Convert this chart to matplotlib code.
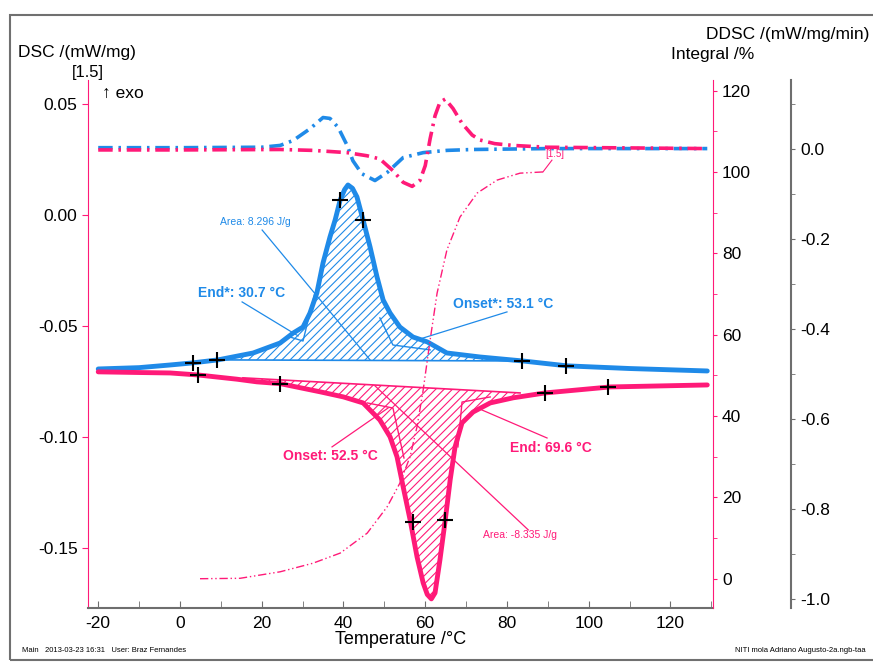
import numpy as np
import matplotlib
matplotlib.use('Agg')
import matplotlib.pyplot as plt
from matplotlib.patches import Rectangle
from matplotlib.ticker import MultipleLocator, FormatStrFormatter

plt.rcParams['font.family'] = ['Liberation Sans', 'DejaVu Sans']
plt.rcParams['axes.unicode_minus'] = False
plt.rcParams['hatch.linewidth'] = 0.8

blue = '#1f8ae8'
pink = '#ff1a78'
gray = '#6e6e6e'

# DSC, cooling (blue, exo peak)
cool_T = [-20, -10, -2.4, 2.9, 9.3, 17.9, 24.5, 27.7, 30.1, 31.8, 33.5, 35.0, 36.7, 38.0,
          39.2, 40.3, 41.1, 42.2, 43.3, 44.8, 46.5, 48.2, 49.7, 51.4, 53.8, 57.0, 60.5,
          65.3, 73.4, 83.9, 94.7, 110, 129]
cool_dsc = [-0.0694, -0.0688, -0.0676, -0.0667, -0.0653, -0.0622, -0.0577, -0.0532, -0.0505,
            -0.0442, -0.0351, -0.0216, -0.0099, -0.0020, 0.0068, 0.0115, 0.0135, 0.0120,
            0.0081, -0.0023, -0.0144, -0.0279, -0.0383, -0.0442, -0.0505, -0.0550, -0.0572,
            -0.0622, -0.0640, -0.0658, -0.0680, -0.0692, -0.0703]

# DSC, heating (pink, endo peak)
heat_T = [-20, -10, -2.4, 4.4, 13.9, 18.8, 24.5, 34.3, 40.0, 44.8, 48.9, 51.4, 53.1, 54.6,
          56.3, 58.0, 59.5, 60.5, 61.5, 62.4, 63.6, 64.9, 66.1, 67.3, 69.0, 71.7, 75.9,
          81.5, 89.3, 105.2, 129]
heat_dsc = [-0.0707, -0.0710, -0.0712, -0.0721, -0.0740, -0.0752, -0.0760, -0.0797, -0.0820,
            -0.0847, -0.0924, -0.1000, -0.1090, -0.1225, -0.1374, -0.1541, -0.1658, -0.1710,
            -0.1730, -0.1703, -0.1554, -0.1374, -0.1194, -0.1045, -0.0937, -0.0888, -0.0847,
            -0.0824, -0.0802, -0.0775, -0.0766]

# DDSC
cool_ddsc_T = [-20, 0, 20, 24.5, 27.7, 31.8, 35.0, 36.7, 38.7, 40.9, 42.3, 44.5, 47.7, 50.7,
               54.6, 59.5, 65.3, 71.7, 90, 129]
cool_ddsc = [0.002, 0.002, 0.003, 0.007, 0.018, 0.044, 0.069, 0.067, 0.047, 0.007, -0.027,
             -0.056, -0.071, -0.053, -0.020, -0.009, -0.004, -0.002, 0.0, 0.0]
heat_ddsc_T = [-20, 0, 24.5, 32.5, 40.9, 45.8, 48.9, 52.1, 54.6, 56.8, 58.7, 60.0, 61.2, 62.4,
               63.6, 64.9, 66.8, 69.0, 71.5, 73.4, 77, 81.5, 89.8, 129]
heat_ddsc = [-0.003, -0.003, -0.002, -0.004, -0.009, -0.016, -0.023, -0.049, -0.075, -0.084,
             -0.071, -0.038, 0.022, 0.073, 0.103, 0.110, 0.089, 0.056, 0.030, 0.019, 0.011,
             0.007, 0.003, 0.0]

# integral of heating peak (%)
integ_T = [4.9, 14.7, 24.5, 32.5, 39.2, 45.8, 50.7, 53.8, 56.3, 58.0, 59.5, 61.2, 62.9, 65.3,
           68.5, 72.7, 77.6, 83.2, 88.8]
integ = [0, 0.1, 1.7, 3.8, 6.3, 11.2, 17.7, 23.5, 30.0, 37.4, 46.4, 58.7, 70.2, 80.8, 88.9,
         94.8, 98.0, 99.7, 100]

# evaluation points
cool_cross_T = [3.2, 9.0, 39.2, 44.8, 83.7, 94.5]
cool_cross_dsc = [-0.0665, -0.0653, 0.0068, -0.0023, -0.0658, -0.0680]
heat_cross_T = [4.4, 24.5, 57.0, 64.9, 89.3, 104.7]
heat_cross_dsc = [-0.0721, -0.0760, -0.1383, -0.1374, -0.0802, -0.0775]

# integration baselines (T, dsc) at both ends
cool_base = ([9.0, 83.7], [-0.0653, -0.0658])
heat_base = ([15.4, 83.2], [-0.0734, -0.0802])

# onset / end tangent constructions
cool_end_lines = [([26.9, 30.1, 33.0], [-0.0550, -0.0568, -0.0351])]
cool_onset_lines = [([48.9, 52.1, 61.2], [-0.0464, -0.0586, -0.0608])]
heat_onset_lines = [([45.8, 52.1, 54.8], [-0.0847, -0.0870, -0.1095])]
heat_end_lines = [([68.0, 69.0, 75.9], [-0.1045, -0.0843, -0.0820])]

fig = plt.figure(figsize=(8.73, 6.66), dpi=100)
ax = fig.add_axes([88 / 873, 58 / 666, 625 / 873, 528 / 666])
ax2 = ax.twinx()
ax3 = ax.twinx()

# hatched peak areas
for T, d, base, col in [(cool_T, cool_dsc, cool_base, blue), (heat_T, heat_dsc, heat_base, pink)]:
    T = np.array(T); d = np.array(d)
    m = (T > base[0][0]) & (T < base[0][1])
    Ts = np.concatenate([[base[0][0]], T[m], [base[0][1]]])
    ds = np.concatenate([[base[1][0]], d[m], [base[1][1]]])
    bl = np.interp(Ts, base[0], base[1])
    ax.fill_between(Ts, bl, ds, facecolor='none', edgecolor=col, hatch='////', linewidth=0)
    ax.plot(base[0], base[1], color=col, lw=1.2)

for lines, col in [(cool_end_lines + cool_onset_lines, blue), (heat_onset_lines + heat_end_lines, pink)]:
    for xs, ys in lines:
        ax.plot(xs, ys, color=col, lw=1)

ax.plot(cool_T, cool_dsc, color=blue, lw=3.5, solid_capstyle='round')
ax.plot(heat_T, heat_dsc, color=pink, lw=3.5, solid_capstyle='round')
ax.plot(cool_cross_T, cool_cross_dsc, '+', color='black', ms=12, mew=1.5)
ax.plot(heat_cross_T, heat_cross_dsc, '+', color='black', ms=12, mew=1.5)

# annotations
def note(txt, xy_text, xy_from, xy_to, col, bold, size):
    ax.text(xy_text[0], xy_text[1], txt, color=col, fontsize=size,
            fontweight='bold' if bold else 'normal', va='center', ha='left')
    ax.plot([xy_from[0], xy_to[0]], [xy_from[1], xy_to[1]], color=col, lw=0.9)

note('End*: 30.7 °C', (4.4, -0.0351), (15.2, -0.0392), (28.9, -0.0545), blue, True, 10)
note('Area: 8.296 J/g', (9.8, -0.0032), (20.1, -0.0068), (46.5, -0.0653), blue, False, 7.5)
note('Onset*: 53.1 °C', (66.8, -0.0401), (80.0, -0.0437), (58.0, -0.0563), blue, True, 10)
note('Onset: 52.5 °C', (25.2, -0.1086), (37.2, -0.1045), (50.9, -0.0870), pink, True, 10)
note('End: 69.6 °C', (80.8, -0.1050), (89.8, -0.1005), (73.9, -0.0879), pink, True, 10)
note('Area: -8.335 J/g', (74.2, -0.1442), (85.2, -0.1419), (47.7, -0.0770), pink, False, 7.5)

ax2.plot(integ_T, integ, color=pink, lw=1, linestyle=(0, (6, 2, 1, 2, 1, 2)))
ax2.plot([integ_T[-1], 91.0], [integ[-1], 102.9], color=pink, lw=0.8)
ax2.text(91.8, 104.3, '[1.5]', color=pink, fontsize=7, ha='center', va='center')

ax3.plot(cool_ddsc_T, cool_ddsc, color=blue, lw=2.6, dashes=[4, 1.6, 0.7, 1.6])
ax3.plot(heat_ddsc_T, heat_ddsc, color=pink, lw=2.6, dashes=[4, 1.6, 0.7, 1.6])

# axes setup
ax.set_xlim(-22.5, 130.4)
ax.set_ylim(-0.1771, 0.0608)
ax2.set_ylim(-7.2, 122.6)
ax3.set_ylim(-1.0209, 0.1524)

ax.xaxis.set_major_locator(MultipleLocator(20))
ax.xaxis.set_minor_locator(MultipleLocator(10))
ax.yaxis.set_major_locator(MultipleLocator(0.05))
ax.yaxis.set_major_formatter(FormatStrFormatter('%.2f'))
ax2.yaxis.set_major_locator(MultipleLocator(20))
ax2.yaxis.set_minor_locator(MultipleLocator(10))
ax3.yaxis.set_major_locator(MultipleLocator(0.2))
ax3.yaxis.set_minor_locator(MultipleLocator(0.1))
ax3.yaxis.set_major_formatter(FormatStrFormatter('%.1f'))
ax3.set_yticks([0.0, -0.2, -0.4, -0.6, -0.8, -1.0])

for a in (ax, ax2, ax3):
    a.spines['top'].set_visible(False)
ax.spines['right'].set_visible(False)
for a in (ax2, ax3):
    a.spines['left'].set_visible(False)
    a.spines['bottom'].set_visible(False)
ax.spines['left'].set_color(pink)
ax.spines['bottom'].set_color(gray)
ax.spines['bottom'].set_linewidth(1.5)
ax2.spines['right'].set_color(pink)
ax3.spines['right'].set_position(('axes', (791 - 88) / 625))
ax3.spines['right'].set_color(gray)
ax3.spines['right'].set_linewidth(1.5)

ax.tick_params(axis='x', which='both', direction='in', length=5, color=gray, labelsize=12.5, pad=6)
ax.tick_params(axis='y', which='both', direction='out', length=4, color=pink, labelsize=12.5)
ax2.tick_params(axis='y', which='both', direction='out', length=3, color=pink, labelsize=12.5)
ax3.tick_params(axis='y', which='both', direction='out', length=3, color=gray, labelsize=12.5)

ax.set_xlabel('Temperature /°C', fontsize=13, labelpad=0)

fig.text(18 / 873, 1 - 52 / 666, 'DSC /(mW/mg)', fontsize=12.5, va='center', ha='left')
fig.text(88 / 873, 1 - 73 / 666, '[1.5]', fontsize=12, va='center', ha='center')
fig.text(102 / 873, 1 - 93 / 666, '↑ exo', fontsize=12.5, va='center', ha='left')
fig.text(869 / 873, 1 - 35 / 666, 'DDSC /(mW/mg/min)', fontsize=12.5, va='center', ha='right')
fig.text(713 / 873, 1 - 55 / 666, 'Integral /%', fontsize=12.5, va='center', ha='center')
fig.text(22 / 873, 1 - 650 / 666, 'Main   2013-03-23 16:31   User: Braz Fernandes', fontsize=5.5,
         va='center', ha='left')
fig.text(866 / 873, 1 - 650 / 666, 'NITI mola Adriano Augusto-2a.ngb-taa', fontsize=5.5,
         va='center', ha='right')

fig.patches.append(Rectangle((10 / 873, 6 / 666), 1.0, 645 / 666, transform=fig.transFigure,
                             fill=False, edgecolor='#707070', lw=1.5))

fig.savefig('out.png', dpi=100)
